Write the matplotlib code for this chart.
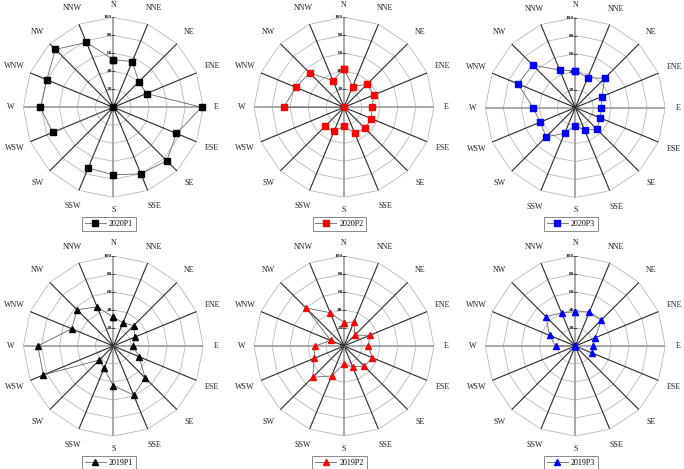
import numpy as np
import matplotlib
matplotlib.use("Agg")
import matplotlib.pyplot as plt

plt.rcParams['font.family'] = ['Liberation Serif', 'DejaVu Serif']

directions = ["N", "NNE", "NE", "ENE", "E", "ESE", "SE", "SSE",
              "S", "SSW", "SW", "WSW", "W", "WNW", "NW", "NNW"]
levels = [0, 20, 40, 60, 80, 100]

s2020P1 = [53, 55, 40, 40, 98, 76, 84, 80, 75, 73, 0, 73, 81, 80, 91, 78]
s2020P2 = [43, 25, 36, 36, 31, 33, 33, 31, 21, 29, 30, 0, 67, 58, 54, 32]
s2020P3 = [41, 36, 46, 32, 29, 30, 34, 27, 20, 31, 46, 42, 47, 69, 67, 45]
s2019P1 = [32, 28, 32, 26, 22, 31, 50, 59, 44, 27, 22, 84, 84, 50, 57, 47]
s2019P2 = [26, 29, 17, 31, 27, 34, 32, 25, 20, 36, 49, 36, 32, 16, 60, 40]
s2019P3 = [38, 41, 41, 24, 20, 20, 0, 0, 0, 0, 0, 0, 22, 31, 46, 40]

series = [("2020P1", s2020P1, "black", "s"),
          ("2020P2", s2020P2, "red", "s"),
          ("2020P3", s2020P3, "blue", "s"),
          ("2019P1", s2019P1, "black", "^"),
          ("2019P2", s2019P2, "red", "^"),
          ("2019P3", s2019P3, "blue", "^")]

W, H = 684, 469
fig = plt.figure(figsize=(W / 100, H / 100), dpi=100)

centers = [(113.3, 107.3), (344.0, 107.3), (575.3, 107.6),
           (113.3, 346.0), (344.0, 346.0), (575.3, 346.0)]
R = 90.0

n = len(directions)
theta = np.deg2rad(np.arange(n) * 360.0 / n)
theta_c = np.append(theta, theta[0])

for (name, vals, col, mk), (cx, cy) in zip(series, centers):
    ax = fig.add_axes([(cx - R) / W, (H - cy - R) / H, 2 * R / W, 2 * R / H],
                      projection='polar')
    ax.set_theta_zero_location('N')
    ax.set_theta_direction(-1)
    ax.set_ylim(0, 100)
    ax.grid(False)
    ax.spines['polar'].set_visible(False)
    ax.set_xticks([])
    ax.set_yticks([])
    ax.patch.set_alpha(0)

    # polygon gridlines
    for lv in levels[1:]:
        ax.plot(theta_c, [lv] * (n + 1), color='#b8b8b8', lw=0.6, zorder=1)
    # spokes
    for i, th in enumerate(theta):
        if i % 4 == 0:
            ax.plot([th, th], [0, 100], color='#9a9a9a', lw=1.2, zorder=2)
        else:
            ax.plot([th, th], [0, 100], color='#2a2a2a', lw=0.8, zorder=2)
    # radial tick labels
    for lv in levels:
        ax.annotate(str(lv), xy=(0, lv), xytext=(-0.8, 0), textcoords='offset points',
                    ha='right', va='center', fontsize=3.8, fontweight='bold',
                    color='#222222', zorder=3)
        ax.plot([0], [lv], marker='_', ms=2.5, mew=0.5, color='#444444', zorder=3)
    # direction labels
    for th, lab in zip(theta, directions):
        r = 114 if len(lab) == 1 else 119
        ax.text(th, r, lab, ha='center', va='center', fontsize=5.8,
                color='#222222', clip_on=False)

    vals_c = list(vals) + [vals[0]]
    ax.plot(theta_c, vals_c, color='#666666', lw=0.6, marker=mk,
            mfc=col, mec=col, ms=4.3 if mk == 's' else 4.8, zorder=5,
            clip_on=False, label=name)

    leg = ax.legend(loc='upper center', bbox_to_anchor=(0.475, -0.11),
                    frameon=True, fancybox=False, fontsize=5.8,
                    handlelength=2.6, handletextpad=0.4, borderpad=0.35,
                    borderaxespad=0)
    leg.get_frame().set_edgecolor('#555555')
    leg.get_frame().set_linewidth(0.6)

fig.savefig("out.png", dpi=100)
